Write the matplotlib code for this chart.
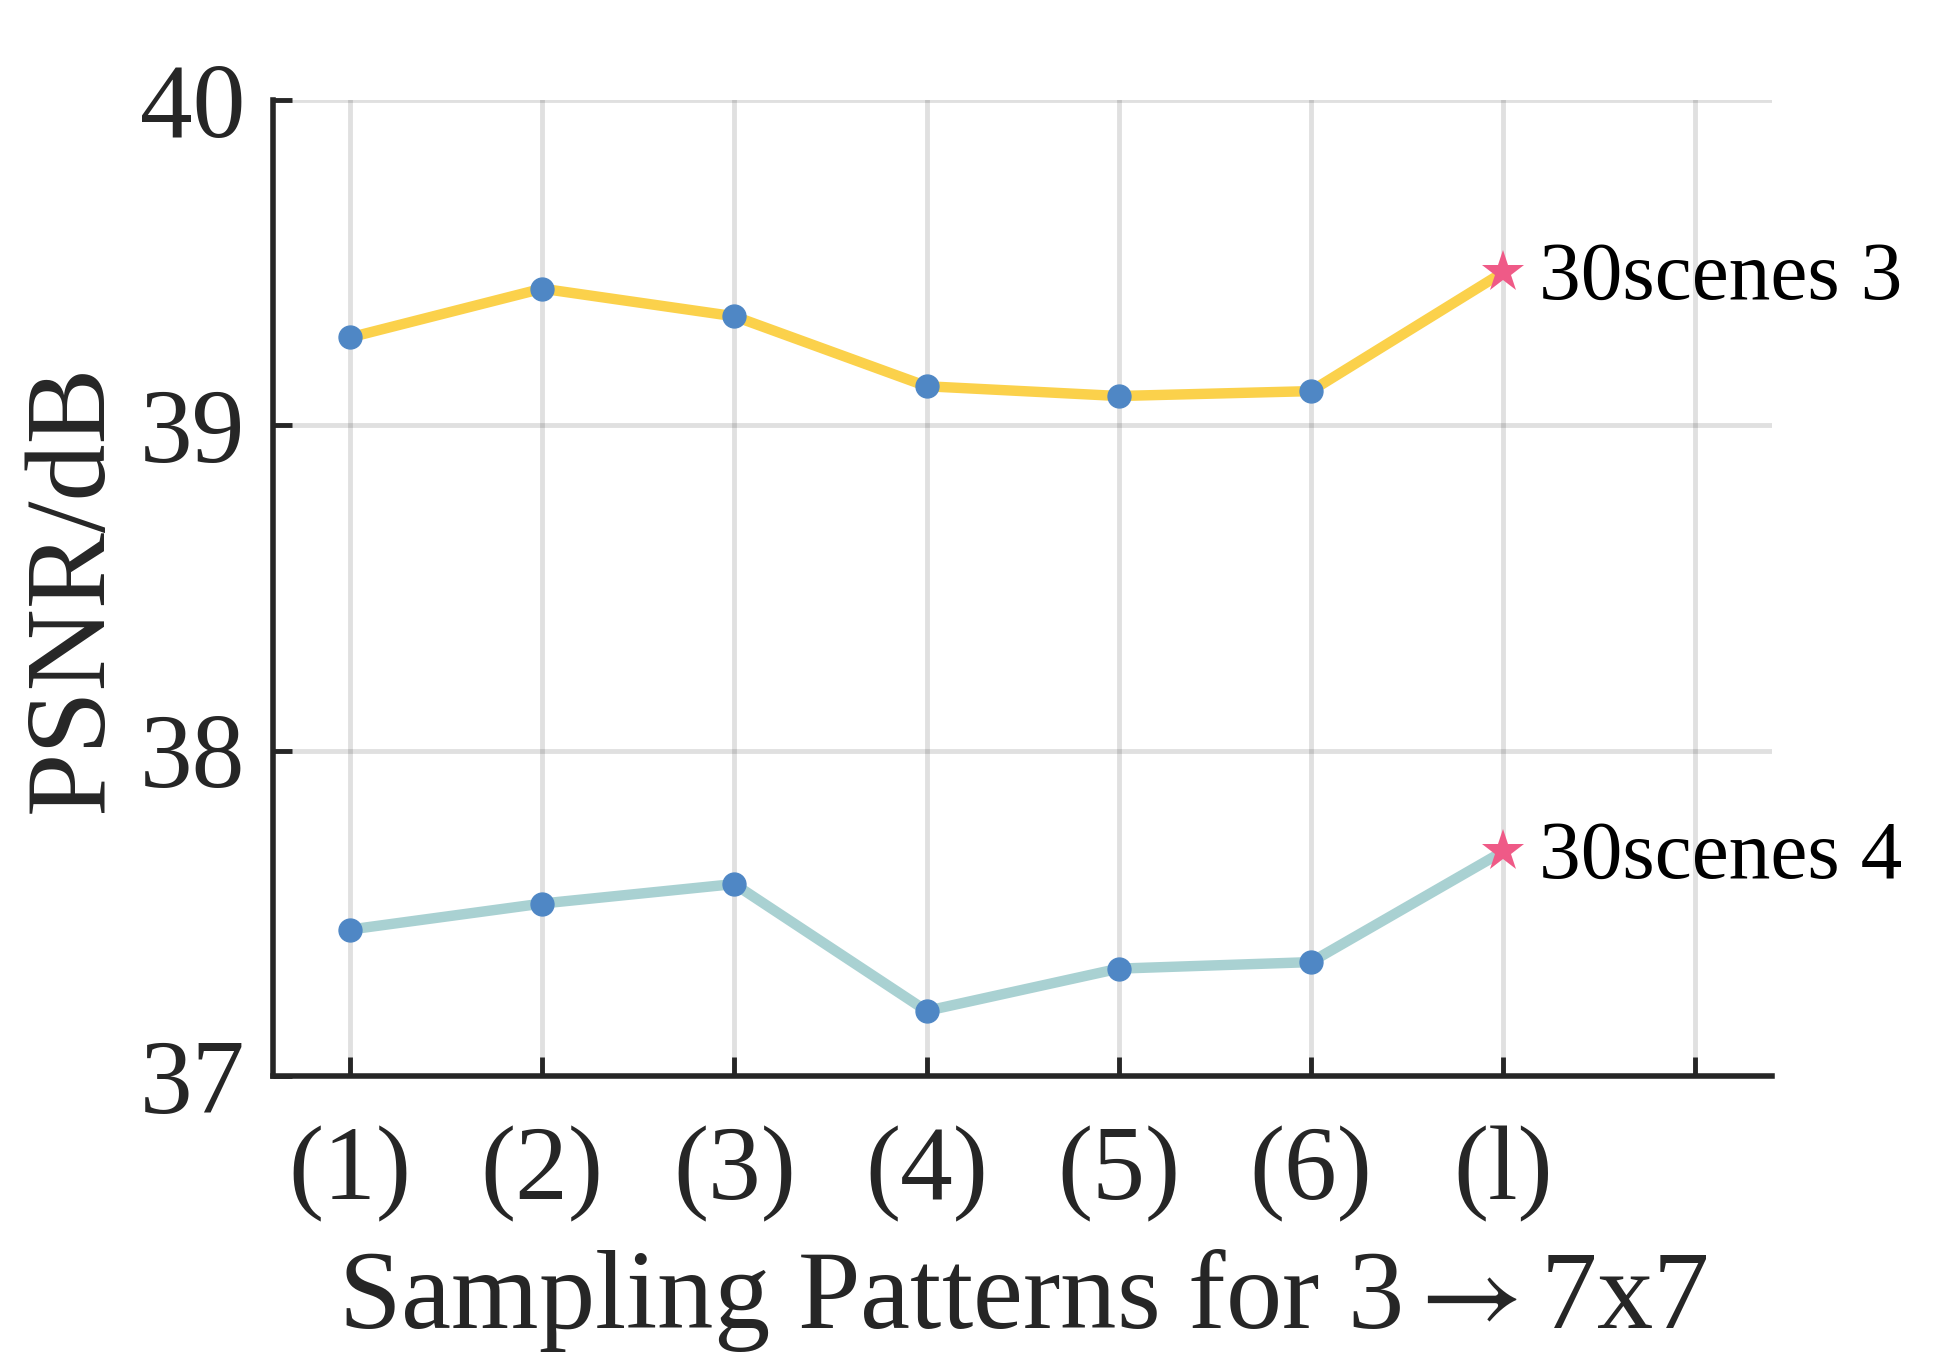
import matplotlib
matplotlib.use("Agg")
import matplotlib.pyplot as plt

# data
positions = [1, 2, 3, 4, 5, 6, 7]
tick_positions = [1, 2, 3, 4, 5, 6, 7, 8]
tick_labels = ["(1)", "(2)", "(3)", "(4)", "(5)", "(6)", "(l)", ""]
scenes3 = [39.27, 39.42, 39.335, 39.12, 39.09, 39.105, 39.47]
scenes4 = [37.45, 37.53, 37.59, 37.20, 37.33, 37.35, 37.69]
series_names = ["30scenes 3", "30scenes 4"]

YELLOW = "#FBD14B"
TEAL = "#A9D1D2"
BLUE = "#4F87C5"
PINK = "#EF5A87"
DARK = "#262626"

plt.rcParams["font.family"] = ["Liberation Serif", "DejaVu Serif"]
plt.rcParams["mathtext.fontset"] = "stix"

fig = plt.figure(figsize=(19.59, 13.56), dpi=100)
ax = fig.add_axes([0.1394, 0.2065, 0.7652, 0.7198])

for values, color, name in ((scenes3, YELLOW, series_names[0]), (scenes4, TEAL, series_names[1])):
    ax.plot(positions, values, color=color, lw=7.5, solid_capstyle="round", zorder=3)
    ax.plot(positions[:-1], values[:-1], "o", color=BLUE, ms=16.5, zorder=4)
    ax.plot(positions[-1], values[-1], "*", color=PINK, ms=32, mew=0, zorder=5)
    ax.annotate(name, (positions[-1], values[-1]), xytext=(26, -5),
                textcoords="offset points", va="center", ha="left",
                fontsize=60, color="black")

ax.set_xlim(0.6, 8.4)
ax.set_ylim(37, 40)
ax.set_xticks(tick_positions)
ax.set_xticklabels(tick_labels)
ax.set_yticks([37, 38, 39, 40])

ax.grid(True, color="black", alpha=0.12, lw=3.5)
ax.set_axisbelow(True)

for side in ("top", "right"):
    ax.spines[side].set_visible(False)
for side in ("left", "bottom"):
    ax.spines[side].set_color(DARK)
    ax.spines[side].set_linewidth(4)

ax.tick_params(axis="both", direction="in", length=14, width=3.5, color=DARK,
               labelsize=76, labelcolor=DARK)
ax.tick_params(axis="x", pad=36)
ax.tick_params(axis="y", pad=20)

ax.set_xlabel(r"Sampling Patterns for 3$\rightarrow$7x7", fontsize=81, color=DARK, labelpad=18)
ax.set_ylabel("PSNR/dB", fontsize=82, color=DARK, labelpad=10)

fig.savefig("out.png", dpi=100)
